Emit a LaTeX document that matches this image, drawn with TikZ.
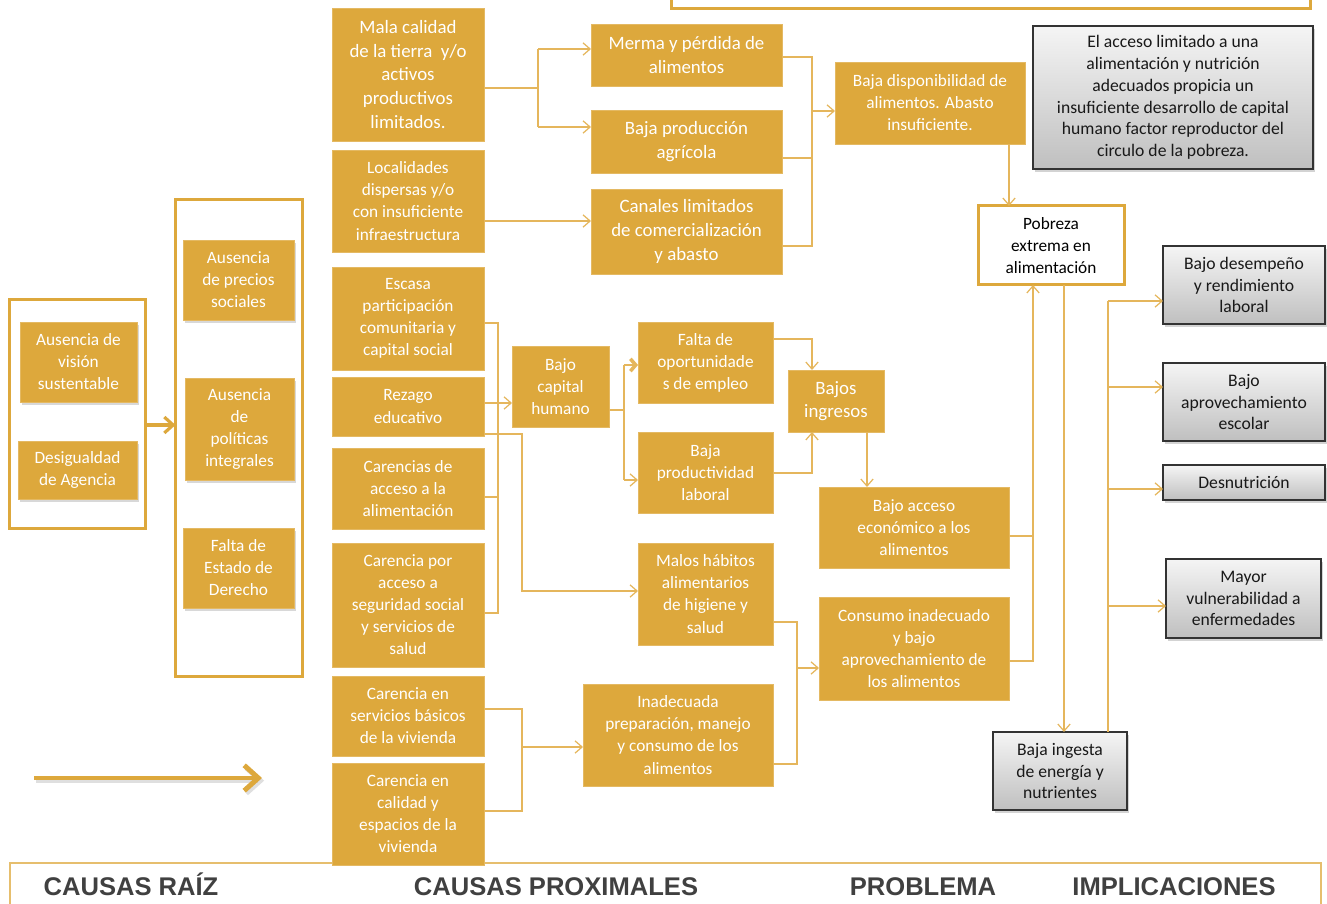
\documentclass[tikz,border=0pt]{standalone}
\usepackage{fontspec}
\setmainfont{Carlito}
\newfontfamily\headfont{Liberation Sans}
\usetikzlibrary{arrows.meta, calc, shadows}
\definecolor{oro}{RGB}{221,168,60}
\definecolor{orolin}{RGB}{229,182,92}
\definecolor{titulo}{RGB}{64,64,64}

\begin{document}
\begin{tikzpicture}[% styles used in image code
  x=0.567pt, y=-0.567pt,
          > = {Straight Barb[length=4pt,width=7pt]},
  wh/.style 2 args = {minimum width=#1*0.567pt, minimum height=#2*0.567pt},
  gbox/.style = {fill=oro, draw=oro!80!white, text=white, align=center,
                 inner sep=1pt, outer sep=0pt,
                 font=\fontsize{9.8}{12.5}\selectfont},
  big/.style  = {font=\fontsize{10.7}{13.4}\selectfont},
  sbox/.style = {gbox, drop shadow={opacity=0.3, shadow xshift=1.2pt,
                 shadow yshift=-1.5pt}},
  gris/.style = {draw=black!80, thick, top color=gray!8, bottom color=gray!50,
                 text=black!90, align=center, inner sep=1pt, outer sep=0pt,
                 font=\fontsize{10}{12.3}\selectfont,
                 drop shadow={opacity=0.35, shadow xshift=1.2pt,
                 shadow yshift=-1.5pt}},
  marco/.style = {draw=oro, line width=1.7pt, fill=white, outer sep=0pt},
  flecha/.style = {draw=orolin, line width=0.7pt},
  grande/.style args = {#1/#2}{draw=oro, line width=#1,
                 -{Straight Barb[length=#2, width=1.8*#2]}},
  head/.style = {font=\headfont\bfseries\fontsize{14.5}{18}\selectfont,
                 text=titulo, anchor=base}
                     ]
  \useasboundingbox (0,0) rectangle (1327,904);

  % marcos de arriba y de abajo
  \draw[draw=oro, line width=1.7pt] (671,-10) |- (1310,9) -- (1310,-10);
  \draw[draw=oro!75, line width=0.9pt] (10,920) |- (1321,863) -- (1321,920);

  % causas raiz
  \node[marco, wh={136}{229}] (raiz1) at (77.5,414) {};
  \node[marco, wh={127}{476}] (raiz2) at (239,438) {};
  \node[sbox, wh={117}{80}]  (vision)    at (78.5,362) {Ausencia de\\visión\\sustentable};
  \node[sbox, wh={119}{58}]  (desig)     at (77.5,470) {Desigualdad\\de Agencia};
  \node[sbox, wh={111}{80}]  (precios)   at (238.5,280) {Ausencia\\de precios\\sociales};
  \node[sbox, wh={109}{102}] (politicas) at (239.5,429) {Ausencia\\de\\políticas\\integrales};
  \node[sbox, wh={111}{80}]  (estado)    at (238.5,568) {Falta de\\Estado de\\Derecho};

  % causas proximales
  \node[gbox, big, wh={152}{133}] (mala) at (408,74.5)
       {Mala calidad\\de la tierra \ y/o\\activos\\productivos\\limitados.};
  \node[gbox, wh={152}{102}] (local)   at (408,201) {Localidades\\dispersas y/o\\con insuficiente\\infraestructura};
  \node[gbox, wh={152}{103}] (escasa)  at (408,318.5) {Escasa\\participación\\comunitaria y\\capital social};
  \node[gbox, wh={152}{59}]  (rezago)  at (408,406.5) {Rezago\\educativo};
  \node[gbox, wh={152}{81}]  (caral)   at (408,488.5) {Carencias de\\acceso a la\\alimentación};
  \node[gbox, wh={152}{124}] (carseg)  at (408,605) {Carencia por\\acceso a\\seguridad social\\y servicios de\\salud};
  \node[gbox, wh={152}{80}]  (carserv) at (408,716) {Carencia en\\servicios básicos\\de la vivienda};
  \node[gbox, wh={152}{102}] (carcal)  at (408,814) {Carencia en\\calidad y\\espacios de la\\vivienda};

  \node[gbox, big, wh={191}{62}] (merma)    at (686.5,55) {Merma y pérdida de\\alimentos};
  \node[gbox, big, wh={191}{63}] (bajaprod) at (686.5,141.5) {Baja producción\\agrícola};
  \node[gbox, big, wh={191}{85}] (canales)  at (686.5,231.5) {Canales limitados\\de comercialización\\y abasto};
  \node[gbox, wh={190}{82}]  (dispon)   at (930,103) {Baja disponibilidad de\\alimentos. Abasto\\insuficiente.};
  \node[gbox, wh={97}{81}]   (capital)  at (560.5,386.5) {Bajo\\capital\\humano};
  \node[gbox, wh={135}{81}]  (falta)    at (705.5,362.5) {Falta de\\oportunidade\\s de empleo};
  \node[gbox, wh={135}{81}]  (product)  at (705.5,472.5) {Baja\\productividad\\laboral};
  \node[gbox, wh={135}{102}] (habitos)  at (705.5,594) {Malos hábitos\\alimentarios\\de higiene y\\salud};
  \node[gbox, big, wh={96}{62}] (ingresos) at (836,401) {Bajos\\ingresos};
  \node[gbox, wh={190}{81}]  (acceso)   at (914,527.5) {Bajo acceso\\económico a los\\alimentos};
  \node[gbox, wh={190}{103}] (consumo)  at (914,648.5) {Consumo inadecuado\\y bajo\\aprovechamiento de\\los alimentos};
  \node[gbox, wh={190}{102}] (inadec)   at (678,735) {Inadecuada\\preparación, manejo\\y consumo de los\\alimentos};

  % problema e implicaciones
  \node[gris, wh={280}{143}] (nota) at (1173,97.5)
       {El acceso limitado a una\\alimentación y nutrición\\adecuados propicia un\\insuficiente desarrollo de capital\\humano factor reproductor del\\circulo de la pobreza.};
  \node[marco, wh={146}{79}, align=center, inner sep=1pt,
        font=\fontsize{9.8}{12.5}\selectfont] (pobreza) at (1051,245.5)
       {Pobreza\\extrema en\\alimentación};
  \node[gris, wh={162}{78}] (desemp)  at (1244,285) {Bajo desempeño\\y rendimiento\\laboral};
  \node[gris, wh={162}{78}] (escolar) at (1244,402) {Bajo\\aprovechamiento\\escolar};
  \node[gris, wh={162}{35}] (desnut)  at (1244,482.5) {Desnutrición};
  \node[gris, wh={155}{79}] (vulner)  at (1243.5,598.5) {Mayor\\vulnerabilidad a\\enfermedades};
  \node[gris, wh={134}{78}] (ingesta) at (1060,771) {Baja ingesta\\de energía y\\nutrientes};

  % flechas gruesas
  \coordinate (ar) at (0,425);
  \draw[grande={1.8pt/5pt}] (raiz1.east |- ar) -- (raiz2.west |- ar);
  \coordinate (fa) at (34,778);
  \coordinate (fb) at (262,778);
  \draw[grande={2.8pt/8pt}, draw=black!25, opacity=0.5,
        transform canvas={xshift=1.2pt, yshift=-1.5pt}] (fa) -- (fb);
  \draw[grande={2.8pt/8pt}] (fa) -- (fb);

  % tierra -> merma, produccion
  \coordinate (t0) at (538,88);
  \coordinate (t1) at (538,49);
  \coordinate (t2) at (538,127);
  \draw[flecha] (mala.east |- t0) -- (t0);
  \draw[flecha] (t1) -- (t2);
  \draw[flecha,->] (t1) -- (merma.west |- t1);
  \draw[flecha,->] (t2) -- (bajaprod.west |- t2);
  % localidades -> canales
  \coordinate (l0) at (500,221);
  \draw[flecha,->] (local.east |- l0) -- (canales.west |- l0);
  % -> disponibilidad
  \coordinate (d0) at (812,111);
  \coordinate (d1) at (812,57);
  \coordinate (d2) at (812,158);
  \coordinate (d3) at (812,246);
  \draw[flecha] (merma.east |- d1) -- (d1) -- (d3) -- (canales.east |- d3);
  \draw[flecha] (bajaprod.east |- d2) -- (d2);
  \draw[flecha,->] (d0) -- (dispon.west |- d0);
  \coordinate (p0) at (1009,0);
  \draw[flecha,->] (dispon.south -| p0) -- (pobreza.north -| p0);

  % -> capital humano
  \coordinate (c1) at (498,323);
  \coordinate (c2) at (498,403);
  \coordinate (c3) at (498,497);
  \coordinate (c4) at (498,613);
  \draw[flecha] (escasa.east |- c1) -- (c1) -- (c4) -- (carseg.east |- c4);
  \draw[flecha] (caral.east |- c3) -- (c3);
  \draw[flecha,->] (rezago.east |- c2) -- (capital.west |- c2);
  % rezago -> habitos
  \coordinate (h1) at (522,434);
  \coordinate (h2) at (522,591);
  \draw[flecha,->] (rezago.east |- h1) -- (h1) -- (h2) -- (habitos.west |- h2);
  % capital -> empleo, productividad
  \coordinate (e0) at (624,410);
  \coordinate (e1) at (624,365);
  \coordinate (e2) at (624,480);
  \draw[flecha] (capital.east |- e0) -- (e0);
  \draw[flecha] (e1) -- (e2);
  \draw[flecha,-{Straight Barb[length=3pt,width=7pt,line width=2pt]}]
       (e1) -- (falta.west |- e1);
  \draw[flecha,->] (e2) -- (product.west |- e2);
  % -> ingresos
  \coordinate (i1) at (812,339);
  \coordinate (i2) at (812,473);
  \coordinate (i3) at (867,0);
  \draw[flecha,->] (falta.east |- i1) -- (i1) -- (ingresos.north -| i1);
  \draw[flecha,->] (product.east |- i2) -- (i2) -- (ingresos.south -| i2);
  \draw[flecha,->] (ingresos.south -| i3) -- (acceso.north -| i3);
  % -> consumo
  \coordinate (k0) at (797,668);
  \coordinate (k1) at (797,622);
  \coordinate (k2) at (797,764);
  \draw[flecha] (habitos.east |- k1) -- (k1) -- (k2) -- (inadec.east |- k2);
  \draw[flecha,->] (k0) -- (consumo.west |- k0);
  % vivienda -> inadecuada
  \coordinate (v0) at (522,747);
  \coordinate (v1) at (522,709);
  \coordinate (v2) at (522,811);
  \draw[flecha] (carserv.east |- v1) -- (v1) -- (v2) -- (carcal.east |- v2);
  \draw[flecha,->] (v0) -- (inadec.west |- v0);

  % -> pobreza -> ingesta
  \coordinate (q1) at (1033,536);
  \coordinate (q2) at (1033,661);
  \coordinate (q3) at (1064,0);
  \draw[flecha] (acceso.east |- q1) -- (q1);
  \draw[flecha,->] (consumo.east |- q2) -- (q2) -- (pobreza.south -| q2);
  \draw[flecha,->] (pobreza.south -| q3) -- (ingesta.north -| q3);
  % ingesta -> implicaciones
  \coordinate (m0) at (1108,301);
  \coordinate (m1) at (1108,387);
  \coordinate (m2) at (1108,489);
  \coordinate (m3) at (1108,606);
  \draw[flecha] (ingesta.north -| m0) -- (m0);
  \draw[flecha,->] (m0) -- (desemp.west |- m0);
  \draw[flecha,->] (m1) -- (escolar.west |- m1);
  \draw[flecha,->] (m2) -- (desnut.west |- m2);
  \draw[flecha,->] (m3) -- (vulner.west |- m3);

  % titulos
  \node[head] (hraiz) at (131,895) {CAUSAS\ RAÍZ};
  \node[head] (hprox) at (556,895) {CAUSAS\ PROXIMALES};
  \node[head] (hprob) at (923,895) {PROBLEMA};
  \node[head] (himpl) at (1174,895) {IMPLICACIONES};
\end{tikzpicture}
\end{document}
